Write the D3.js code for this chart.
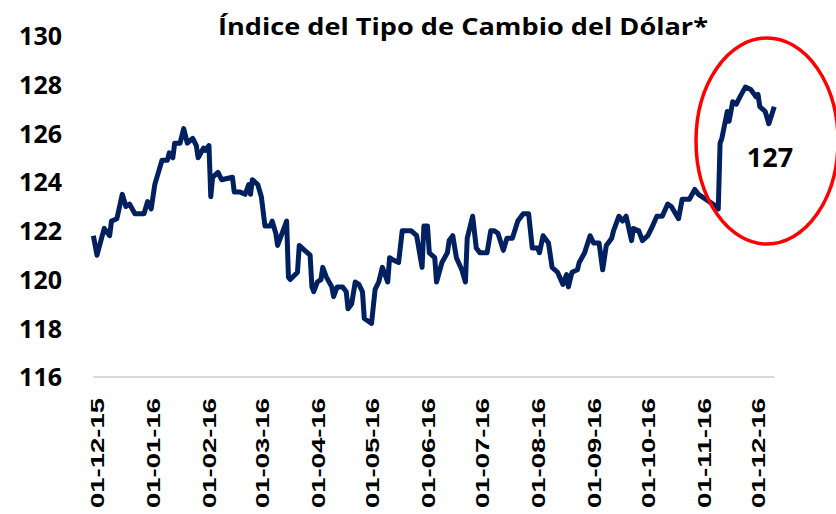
<!DOCTYPE html>
<html>
<head>
<meta charset="utf-8">
<script src="https://cdn.jsdelivr.net/npm/d3@7"></script>
<style>
  body { margin: 0; background: #fff; }
  svg { display: block; }
</style>
</head>
<body>
<svg class="chart"></svg>
<script>
const svgWidth = 836;
const svgHeight = 514;
const parseDate = d3.timeParse("%Y-%m-%d");
const formatTick = d3.timeFormat("%d-%m-%y");

const title = "Índice del Tipo de Cambio del Dólar*";
const lastLabel = "127";

// daily-ish readings, grouped by month
const dates = [
  "2015-11-29","2015-12-01","2015-12-05","2015-12-08","2015-12-09","2015-12-12","2015-12-15","2015-12-17","2015-12-19","2015-12-22","2015-12-27","2015-12-29","2015-12-31",
  "2016-01-02","2016-01-04","2016-01-06","2016-01-09","2016-01-10","2016-01-12","2016-01-13","2016-01-16","2016-01-18","2016-01-20","2016-01-23","2016-01-25","2016-01-26","2016-01-29","2016-01-30",
  "2016-02-01","2016-02-02","2016-02-03","2016-02-06","2016-02-08","2016-02-14","2016-02-15","2016-02-18","2016-02-21","2016-02-23","2016-02-24","2016-02-25","2016-02-28",
  "2016-03-01","2016-03-03","2016-03-06","2016-03-07","2016-03-09","2016-03-10","2016-03-12","2016-03-15","2016-03-16","2016-03-17","2016-03-21","2016-03-22","2016-03-25","2016-03-28","2016-03-29","2016-03-30",
  "2016-04-01","2016-04-03","2016-04-04","2016-04-06","2016-04-09","2016-04-10","2016-04-12","2016-04-15","2016-04-17","2016-04-18","2016-04-20","2016-04-22","2016-04-24","2016-04-26","2016-04-27",
  "2016-05-01","2016-05-03","2016-05-05","2016-05-07","2016-05-10","2016-05-11","2016-05-13","2016-05-16","2016-05-18","2016-05-21","2016-05-23","2016-05-26","2016-05-29","2016-05-30",
  "2016-06-01","2016-06-02","2016-06-05","2016-06-06","2016-06-09","2016-06-12","2016-06-13","2016-06-15","2016-06-17","2016-06-20","2016-06-22","2016-06-23","2016-06-26","2016-06-28","2016-06-30",
  "2016-07-04","2016-07-06","2016-07-08","2016-07-10","2016-07-13","2016-07-15","2016-07-18","2016-07-21","2016-07-24","2016-07-27","2016-07-29",
  "2016-08-01","2016-08-02","2016-08-04","2016-08-07","2016-08-09","2016-08-12","2016-08-15","2016-08-17","2016-08-18","2016-08-20","2016-08-23","2016-08-24","2016-08-27","2016-08-30",
  "2016-09-01","2016-09-04","2016-09-06","2016-09-08","2016-09-11","2016-09-12","2016-09-15","2016-09-17","2016-09-19","2016-09-22","2016-09-23","2016-09-26","2016-09-28",
  "2016-10-01","2016-10-03","2016-10-06","2016-10-09","2016-10-12","2016-10-14","2016-10-18","2016-10-20","2016-10-24","2016-10-27","2016-10-29",
  "2016-11-02","2016-11-06","2016-11-08","2016-11-09","2016-11-10","2016-11-11","2016-11-14","2016-11-15","2016-11-17","2016-11-19","2016-11-21","2016-11-24","2016-11-27","2016-11-30",
  "2016-12-01","2016-12-02","2016-12-05","2016-12-07","2016-12-10"
];

const values = [
  121.8,121.0,122.1,121.8,122.4,122.5,123.5,123.0,123.1,122.7,122.7,123.2,122.9,
  123.9,124.4,124.9,124.9,125.2,125.0,125.6,125.6,126.2,125.6,125.8,125.5,125.0,125.4,125.3,
  125.5,123.4,124.2,124.4,124.1,124.2,123.6,123.6,123.5,123.9,123.5,124.1,123.9,
  123.4,122.2,122.2,122.4,121.9,121.4,121.8,122.4,120.1,120.0,120.3,121.4,121.2,121.0,119.7,119.5,
  119.9,120.0,120.5,120.1,119.7,119.3,119.7,119.7,119.5,118.8,119.0,119.9,119.8,119.5,118.4,
  118.2,119.6,119.9,120.5,119.9,120.9,120.8,120.7,122.0,122.0,122.0,121.8,120.5,122.2,
  122.2,121.1,120.9,119.9,120.7,121.1,121.6,121.8,120.9,120.4,119.9,121.7,122.6,121.3,121.1,
  121.1,122.0,122.0,121.9,121.2,121.7,121.7,122.4,122.7,122.7,121.3,
  121.3,121.1,121.8,121.5,120.5,120.3,119.8,120.2,119.7,120.3,120.4,120.7,121.1,121.8,
  121.5,121.5,120.4,121.4,121.7,122.0,122.6,122.4,122.6,121.6,122.1,122.0,121.6,
  121.8,122.1,122.6,122.6,123.1,123.0,122.5,123.3,123.3,123.7,123.5,
  123.3,123.1,123.0,122.9,125.6,125.8,126.9,126.5,127.3,127.2,127.5,127.9,127.8,127.5,
  127.6,127.1,126.9,126.4,127.1
];

const tickDates = ["2015-12-01","2016-01-01","2016-02-01","2016-03-01","2016-04-01","2016-05-01",
  "2016-06-01","2016-07-01","2016-08-01","2016-09-01","2016-10-01","2016-11-01","2016-12-01"];
const yTicks = [116, 118, 120, 122, 124, 126, 128, 130];

const data = dates.map((d, i) => ({date: parseDate(d), value: values[i]}));

const svg = d3.select(".chart")
  .attr("width", svgWidth)
  .attr("height", svgHeight);

svg.append("rect").attr("width", svgWidth).attr("height", svgHeight).attr("fill", "#fff");

const x = d3.scaleTime()
  .domain([parseDate(tickDates[0]), parseDate(tickDates[tickDates.length - 1])])
  .range([97, 758]);

const y = d3.scaleLinear()
  .domain([116, 130])
  .range([377, 36]);

// y axis labels
const yAxis = svg.append("g")
  .attr("transform", "translate(62,0)")
  .call(d3.axisLeft(y).tickValues(yTicks).tickSize(0).tickPadding(0));
yAxis.select(".domain").remove();
yAxis.selectAll("text")
  .style("font-family", "Open Sans")
  .style("font-weight", "bold")
  .style("font-size", "25px")
  .attr("dy", "0.35em")
  .attr("fill", "#000");

// baseline across the data span
const first = data[0].date, last = data[data.length - 1].date;
svg.append("line")
  .attr("x1", x(first)).attr("x2", x(last))
  .attr("y1", y(116)).attr("y2", y(116))
  .attr("stroke", "#d9d9d9")
  .attr("stroke-width", 2);

// x axis labels (rotated)
const xAxis = svg.append("g")
  .attr("transform", `translate(0, ${y(116)})`)
  .call(d3.axisBottom(x).tickValues(tickDates.map(parseDate)).tickFormat(formatTick).tickSize(0));
xAxis.select(".domain").remove();
xAxis.selectAll("text")
  .attr("transform", "rotate(-90)")
  .attr("x", -21)
  .attr("y", 0)
  .attr("dy", "0.36em")
  .style("text-anchor", "end")
  .style("font-family", "Liberation Sans")
  .style("font-weight", "bold")
  .style("font-size", "19px")
  .attr("textLength", 110)
  .attr("lengthAdjust", "spacingAndGlyphs")
  .attr("fill", "#000");

// line
const line = d3.line()
  .x(d => x(d.date))
  .y(d => y(d.value));

svg.append("path")
  .datum(data)
  .attr("d", line)
  .attr("fill", "none")
  .attr("stroke", "#002060")
  .attr("stroke-width", 5)
  .attr("stroke-linejoin", "round");

// title
svg.append("text")
  .attr("x", 463)
  .attr("y", 35)
  .attr("text-anchor", "middle")
  .style("font-family", "Open Sans")
  .style("font-weight", "bold")
  .style("font-size", "23px")
  .attr("textLength", 490)
  .attr("lengthAdjust", "spacingAndGlyphs")
  .text(title);

// highlight of the last value
svg.append("ellipse")
  .attr("cx", 767)
  .attr("cy", 141)
  .attr("rx", 71)
  .attr("ry", 103)
  .attr("fill", "none")
  .attr("stroke", "#ff0000")
  .attr("stroke-width", 3.5);

svg.append("text")
  .attr("x", 770)
  .attr("y", 167)
  .attr("text-anchor", "middle")
  .style("font-family", "Open Sans")
  .style("font-weight", "bold")
  .style("font-size", "27px")
  .text(lastLabel);
</script>
</body>
</html>
